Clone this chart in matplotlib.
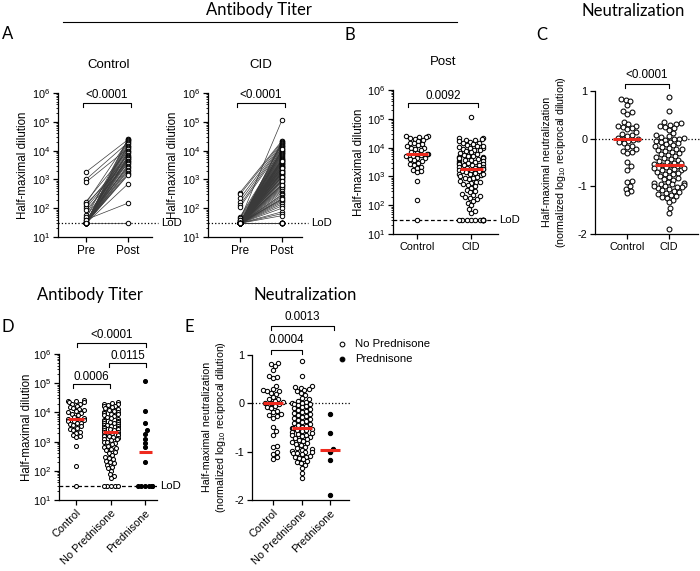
import numpy as np
import matplotlib.pyplot as plt
from matplotlib.lines import Line2D

plt.rcParams['font.family'] = ['Liberation Sans', 'DejaVu Sans']
plt.rcParams['mathtext.fontset'] = 'custom'
plt.rcParams['mathtext.rm'] = 'Liberation Sans'
plt.rcParams['mathtext.it'] = 'Liberation Sans:italic'
plt.rcParams['axes.unicode_minus'] = False

# ---- antibody titers (half-maximal dilution), LoD = 30 ----
control_pre = [30, 45, 1800, 30, 150, 30, 1000, 30, 30, 60,
               30, 800, 30, 170, 30, 35, 30, 120, 30, 30,
               100, 30, 50, 30, 30, 140, 30, 85, 30, 30,
               40, 30, 30, 30, 30, 30, 30, 30, 40, 30]
control_post = [26000, 25000, 24000, 23000, 22000, 20000, 19000, 17000, 15000, 14000,
                13000, 12000, 11000, 10000, 9500, 9000, 8000, 7000, 6500, 6000,
                5800, 5500, 5200, 5000, 4500, 4200, 4000, 3600, 3300, 3000,
                2700, 2500, 2200, 2000, 1700, 1500, 1400, 700, 150, 30]

nopred_post = [22000, 21000, 20000, 19000, 18000, 17000, 16000, 15000, 14000, 13000,
               12000, 11000, 10500, 10000, 9500, 9000, 8500, 8000, 7500, 7000,
               6500, 6000, 5500, 5200, 5000, 4800, 4600, 4500, 4200, 4000,
               3800, 3700, 3500, 3300, 3100, 3000, 2900, 2800, 2600, 2500,
               2400, 2200, 2100, 2000, 1900, 1800, 1700, 1650, 1600, 1500,
               1400, 1300, 1250, 1200, 1100, 1000, 950, 900, 800, 700,
               650, 600, 550, 500, 450, 400, 350, 300, 280, 250,
               220, 200, 180, 160, 140, 120, 100, 75, 65, 55,
               30, 30, 30, 30, 30]
pred_post = [115000, 11000, 4400, 2400, 1800, 1250, 900, 650, 205, 30,
             30, 30, 30, 30, 30, 30]
cid_post = nopred_post + pred_post
cid_pre = [350, 30, 300, 30, 220, 30, 170, 130, 30, 110,
           50, 30, 45, 30, 40, 30, 30, 35, 30, 30,
           30, 30, 30, 30, 30, 30, 35, 30, 30, 30,
           30, 30, 30, 30, 30, 30, 30, 30, 30, 30,
           30, 30, 35, 30, 30, 30, 30, 30, 30, 30,
           30, 30, 30, 30, 30, 30, 30, 30, 30, 30,
           30, 30, 30, 30, 30, 30, 30, 30, 30, 30,
           30, 30, 30, 30, 30, 30, 30, 30, 30, 30,
           30, 30, 30, 30, 30, 40, 30, 30, 30, 30,
           30, 30, 30, 30, 30, 30, 30, 30, 30, 30,
           30]

# ---- neutralization (normalized log10 reciprocal dilution) ----
control_neut = [0.83, 0.82, 0.78, 0.70, 0.57, 0.55, 0.52, 0.36, 0.30, 0.27,
                0.26, 0.25, 0.22, 0.20, 0.14, 0.10, 0.08, 0.05, 0.02, 0.0,
                0.0, -0.02, -0.05, -0.08, -0.10, -0.15, -0.18, -0.22, -0.25, -0.27,
                -0.30, -0.48, -0.58, -0.65, -0.88, -0.90, -1.00, -1.05, -1.10, -1.15]
nopred_neut = [0.88, 0.57, 0.35, 0.33, 0.31, 0.29, 0.27, 0.25, 0.22, 0.18,
               0.12, 0.08, 0.05, 0.03, 0.01, 0.0, -0.01, -0.02, -0.04, -0.06,
               -0.08, -0.10, -0.12, -0.14, -0.16, -0.18, -0.20, -0.22, -0.24, -0.26,
               -0.28, -0.30, -0.32, -0.34, -0.36, -0.38, -0.40, -0.42, -0.44, -0.46,
               -0.48, -0.50, -0.52, -0.54, -0.55, -0.56, -0.58, -0.60, -0.62, -0.64,
               -0.65, -0.66, -0.68, -0.70, -0.72, -0.74, -0.75, -0.78, -0.80, -0.83,
               -0.85, -0.86, -0.90, -0.93, -0.95, -0.96, -0.98, -1.0, -1.01, -1.02,
               -1.03, -1.05, -1.08, -1.10, -1.12, -1.13, -1.16, -1.20, -1.22, -1.24,
               -1.28, -1.33, -1.45, -1.55]
pred_neut = [-0.22, -0.62, -0.94, -1.0, -1.18, -1.9]
cid_neut = nopred_neut + pred_neut

groups2 = ['Control', 'CID']
groups3 = ['Control', 'No Prednisone', 'Prednisone']

W, H = 700, 571
fig = plt.figure(figsize=(W / 100, H / 100), dpi=100)
RED = '#ee2a1e'
TITLE_FONT = 'Lato'
geo = {}


def make_ax(left, top, right, bottom, p0, step, log=True):
    ax = fig.add_axes([left / W, 1 - bottom / H, (right - left) / W, (bottom - top) / H])
    ax.set_xlim((left - p0) / step, (right - p0) / step)
    if log:
        ax.set_yscale('log')
        ax.set_ylim(10, 1e6)
        ax.set_yticks([10 ** k for k in range(1, 7)])
        ax.set_yticklabels([r'$10^{%d}$' % k for k in range(1, 7)])
    else:
        ax.set_ylim(-2, 1)
        ax.set_yticks([-2, -1, 0, 1])
        ax.set_yticklabels(['-2', '-1', '0', '1'])
    for s in ['top', 'right']:
        ax.spines[s].set_visible(False)
    for s in ['left', 'bottom']:
        ax.spines[s].set_linewidth(0.9)
    ax.tick_params(length=3.5, width=0.9, labelsize=7.8, pad=2)
    ax.tick_params(which='minor', length=1.8, width=0.6)
    ax.patch.set_alpha(0)
    geo[ax] = (left, top, right, bottom, p0, step, log)
    return ax


def xpx(ax, px):
    left, top, right, bottom, p0, step, log = geo[ax]
    return (px - p0) / step


def fy(ax, py):
    left, top, right, bottom, p0, step, log = geo[ax]
    return (bottom - py) / (bottom - top)


def swarm(ax, vals, center, d, maxw):
    left, top, right, bottom, p0, step, log = geo[ax]
    h = bottom - top
    v = np.asarray(vals, float)
    ypx = (np.log10(v) - 1) / 5 * h if log else (v + 2) / 3 * h
    xs = np.zeros(len(v))
    placed = []
    for i in np.argsort(ypx, kind='stable'):
        y = ypx[i]
        cands = [0.0]
        for px, py in placed:
            dy = y - py
            if abs(dy) < d:
                dx = np.sqrt(d * d - dy * dy)
                cands += [px + dx, px - dx]
        cands.sort(key=abs)
        best = cands[-1]
        for c in cands:
            if all((c - px) ** 2 + (y - py) ** 2 >= d * d - 1e-6 for px, py in placed):
                best = c
                break
        if abs(best) > maxw:
            best = np.sign(best) * maxw
        xs[i] = best
        placed.append((best, y))
    return center + xs / step


def dots(ax, vals, center, d, maxw, hw, filled=False):
    left, top, right, bottom, p0, step, log = geo[ax]
    xs = swarm(ax, vals, center, d, maxw)
    ax.plot(xs, vals, 'o', ms=d * 0.72, mfc='k' if filled else 'white', mec='k',
            mew=0.75, ls='none', zorder=3, clip_on=False)
    med = np.median(vals)
    ax.plot([center - hw / step, center + hw / step], [med, med], color=RED, lw=2.2,
            zorder=4, solid_capstyle='butt')


def bracket(ax, x0, x1, yline, ytick, ytext, text):
    tr = ax.get_xaxis_transform()
    ax.plot([xpx(ax, x0), xpx(ax, x0), xpx(ax, x1), xpx(ax, x1)],
            [fy(ax, ytick), fy(ax, yline), fy(ax, yline), fy(ax, ytick)],
            color='k', lw=0.8, transform=tr, clip_on=False)
    ax.text(xpx(ax, (x0 + x1) / 2), fy(ax, ytext), text, transform=tr,
            ha='center', va='baseline', fontsize=8.4)


def hline(ax, y, x0, x1, ls, label=None):
    ax.plot([xpx(ax, x0), xpx(ax, x1)], [y, y], ls=ls, color='k', lw=0.9,
            clip_on=False, zorder=1)
    if label:
        ax.text(xpx(ax, x1 + 3), y, label, va='center', ha='left', fontsize=8.2)


# ---- A: paired pre/post ----
for pre, post, L, R, p0, name, cx in [
        (control_pre, control_post, 58, 152, 86, 'Control', 109),
        (cid_pre, cid_post, 208, 302, 240, 'CID', 261)]:
    ax = make_ax(L, 93, R, 237, p0, 42)
    for a, b in zip(pre, post):
        ax.plot([0, 1], [a, b], color='#3a3a3a', lw=0.5, zorder=2)
    ax.plot(np.zeros(len(pre)), pre, 'o', ms=3.2, mfc='white', mec='k', mew=0.7, zorder=3)
    ax.plot(np.ones(len(post)), post, 'o', ms=3.2, mfc='white', mec='k', mew=0.7, zorder=3)
    ax.set_xticks([0, 1])
    ax.set_xticklabels(['Pre', 'Post'], fontsize=8.4)
    hline(ax, 30, L, R + 6, ':', 'LoD')
    bracket(ax, p0 - 3, p0 + 45, 103, 107, 98, '<0.0001')
    fig.text(cx / W, 1 - 65 / H, name, ha='center', va='center', fontsize=9.5)
    fig.text((L - 35) / W, 1 - 165 / H, 'Half-maximal dilution', rotation=90,
             ha='center', va='center', fontsize=8.3)

# ---- B: post titers ----
axB = make_ax(393, 90, 498, 234, 417, 54)
dots(axB, control_post, 0, 4.4, 11, 11)
dots(axB, cid_post, 1, 4.4, 12, 11.5)
axB.set_xticks([0, 1])
axB.set_xticklabels(groups2)
hline(axB, 30, 393, 496, (0, (3, 2)), 'LoD')
bracket(axB, 408, 478, 103, 107, 99, '0.0092')
fig.text(443 / W, 1 - 62 / H, 'Post', ha='center', va='center', fontsize=9.5)
fig.text(359 / W, 1 - 162 / H, 'Half-maximal dilution', rotation=90,
         ha='center', va='center', fontsize=8.3)

# ---- C: neutralization ----
axC = make_ax(595, 91, 698, 234, 627, 42, log=False)
hline(axC, 0, 595, 700, ':')
dots(axC, control_neut, 0, 4.9, 14, 14)
dots(axC, cid_neut, 1, 4.9, 15, 14.5)
axC.set_xticks([0, 1])
axC.set_xticklabels(groups2)
bracket(axC, 625, 669, 84, 88, 78, '<0.0001')
fig.text(555 / W, 1 - 162 / H,
         'Half-maximal neutralization\n(normalized log$_{10}$ reciprocal dilution)',
         rotation=90, ha='center', va='center', fontsize=7.7, linespacing=1.3)

# ---- D: titers by prednisone ----
axD = make_ax(59, 354, 157, 500, 76, 34.5)
hline(axD, 30, 59, 157, (0, (3, 2)), 'LoD')
dots(axD, control_post, 0, 4.0, 8, 8)
dots(axD, nopred_post, 1, 4.0, 7, 7.5)
dots(axD, pred_post, 2, 4.0, 7, 6.5, filled=True)
axD.set_xticks([0, 1, 2])
axD.set_xticklabels(groups3, rotation=45, ha='right', rotation_mode='anchor', fontsize=7.8)
bracket(axD, 73, 110, 384, 388, 380, '0.0006')
bracket(axD, 109, 146, 363, 367, 359, '0.0115')
bracket(axD, 77, 146, 343, 347, 338, '<0.0001')
fig.text(27 / W, 1 - 427 / H, 'Half-maximal dilution', rotation=90,
         ha='center', va='center', fontsize=8.3)

# ---- E: neutralization by prednisone ----
axE = make_ax(252, 355, 349, 500, 273, 28.5, log=False)
hline(axE, 0, 252, 351, ':')
dots(axE, control_neut, 0, 4.3, 10, 10)
dots(axE, nopred_neut, 1, 4.3, 10, 10)
dots(axE, pred_neut, 2, 4.3, 10, 10, filled=True)
axE.set_xticks([0, 1, 2])
axE.set_xticklabels(groups3, rotation=45, ha='right', rotation_mode='anchor', fontsize=7.8)
bracket(axE, 271, 302, 350, 354, 343, '0.0004')
bracket(axE, 271, 334, 326, 330, 320, '0.0013')
fig.text(215 / W, 1 - 427 / H,
         'Half-maximal neutralization\n(normalized log$_{10}$ reciprocal dilution)',
         rotation=90, ha='center', va='center', fontsize=7.7, linespacing=1.3)

# legend
for yy, fc, lab in [(344, 'white', 'No Prednisone'), (359, 'k', 'Prednisone')]:
    fig.add_artist(Line2D([342 / W], [1 - yy / H], marker='o', ms=3.4, mfc=fc, mec='k',
                          mew=0.75, ls='none', transform=fig.transFigure))
    fig.text(355 / W, 1 - yy / H, lab, va='center', ha='left', fontsize=8.2)

# ---- headers, panel letters ----
fig.text(259 / W, 1 - 10 / H, 'Antibody Titer', ha='center', va='center',
         fontsize=12, family=TITLE_FONT)
fig.add_artist(Line2D([63 / W, 457 / W], [1 - 22 / H, 1 - 22 / H], color='k', lw=0.8,
                      transform=fig.transFigure))
fig.text(633 / W, 1 - 11 / H, 'Neutralization', ha='center', va='center',
         fontsize=12, family=TITLE_FONT)
fig.text(90 / W, 1 - 295 / H, 'Antibody Titer', ha='center', va='center',
         fontsize=12, family=TITLE_FONT)
fig.text(305 / W, 1 - 295 / H, 'Neutralization', ha='center', va='center',
         fontsize=12, family=TITLE_FONT)
for letter, x, y in [('A', 8, 34), ('B', 350, 35), ('C', 542, 35), ('D', 8, 327), ('E', 189, 327)]:
    fig.text(x / W, 1 - y / H, letter, ha='center', va='center', fontsize=12,
             family=TITLE_FONT)

fig.savefig('out.png', dpi=100)
